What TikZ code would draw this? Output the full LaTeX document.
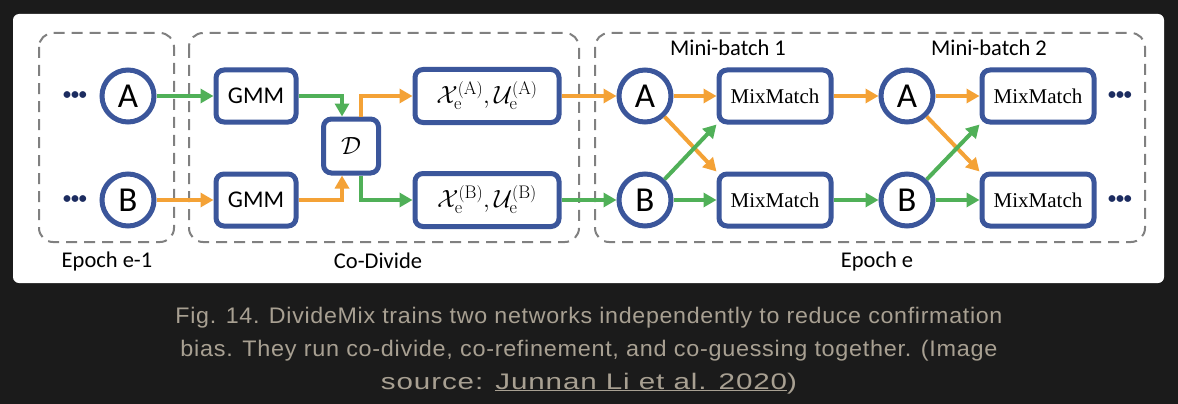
\documentclass[tikz,border=0pt]{standalone}
\usepackage{fontspec}
\usepackage{graphicx}
\usetikzlibrary{arrows.meta}
\newfontfamily\calibri{Carlito}
\newfontfamily\cambria{Liberation Serif}
\newfontfamily\capfont[LetterSpace=3]{Liberation Sans}
\definecolor{netblue}{RGB}{59,86,155}
\definecolor{dotblue}{RGB}{28,44,96}
\definecolor{grpgray}{RGB}{128,128,128}
\definecolor{arrgreen}{RGB}{80,176,88}
\definecolor{arrorange}{RGB}{244,162,54}
\definecolor{pagedark}{RGB}{27,27,27}
\definecolor{captgray}{RGB}{168,160,146}

\begin{document}
\begin{tikzpicture}[x=1pt,y=-1pt,
    net/.style={circle,draw=netblue,line width=5pt,minimum size=52pt,inner sep=0pt,
      font=\calibri\fontsize{35}{35}\selectfont},
    blk/.style={draw=netblue,line width=5pt,rounded corners=8pt,minimum height=52pt,inner sep=0pt},
    gmm/.style={blk,minimum width=80pt,font=\calibri\fontsize{24}{24}\selectfont},
    mix/.style={blk,minimum width=112pt,font=\cambria\fontsize{21}{21}\selectfont},
    part/.style={blk,minimum width=144pt,minimum height=53pt,font=\fontsize{26}{26}\selectfont},
    grp/.style={draw=grpgray,line width=2pt,dash pattern=on 11pt off 7pt,rounded corners=14pt},
    dots/.style={text=dotblue,font=\calibri\bfseries\fontsize{16}{16}\selectfont},
    lab/.style={font=\calibri\fontsize{22.5}{22.5}\selectfont},
    capt/.style={text=captgray,anchor=base,inner sep=0pt,font=\capfont\fontsize{22.5}{22.5}\selectfont},
    garr/.style={draw=arrgreen,line width=4pt,-{Triangle[length=13pt,width=14pt]}},
    oarr/.style={draw=arrorange,line width=4pt,-{Triangle[length=13pt,width=14pt]}}]
  \useasboundingbox (0,0) rectangle (1178,404);
  \fill[pagedark] (0,0) rectangle (1178,404);
  \fill[white,rounded corners=6pt] (13,14) rectangle (1164,283);

  % dashed groups
  \draw[grp] (39,33) rectangle (174,242);
  \draw[grp] (189,33) rectangle (579,242);
  \draw[grp] (595,33) rectangle (1145,242);
  \node[lab] (ep1) at (107,261) {Epoch e-1};
  \node[lab] (codiv) at (378,261) {Co-Divide};
  \node[lab] (ep) at (877,261) {Epoch e};
  \node[lab] (mb1) at (728,48) {Mini-batch 1};
  \node[lab] (mb2) at (989,48) {Mini-batch 2};

  % epoch e-1 and co-divide
  \node[dots] (dA) at (75,96) {\textbullet\textbullet\textbullet};
  \node[dots] (dB) at (75,200) {\textbullet\textbullet\textbullet};
  \node[net] (A1) at (128,96) {A};
  \node[net] (B1) at (128,200) {B};
  \node[gmm] (gA) at (256,96) {GMM};
  \node[gmm] (gB) at (256,200) {GMM};
  \node[blk,minimum width=55pt,minimum height=54pt,font=\fontsize{26}{26}\selectfont] (D) at (351,146) {$\mathcal{D}$};
  \node[part] (xA) at (487,96) {$\mathcal{X}_{\mathrm{e}}^{(\mathrm{A})},\mathcal{U}_{\mathrm{e}}^{(\mathrm{A})}$};
  \node[part] (xB) at (487,200) {$\mathcal{X}_{\mathrm{e}}^{(\mathrm{B})},\mathcal{U}_{\mathrm{e}}^{(\mathrm{B})}$};

  % epoch e
  \node[net] (A2) at (645,96) {A};
  \node[net] (B2) at (645,200) {B};
  \node[mix] (mA1) at (775,96) {MixMatch};
  \node[mix] (mB1) at (775,200) {MixMatch};
  \node[net] (A3) at (907,96) {A};
  \node[net] (B3) at (907,200) {B};
  \node[mix] (mA2) at (1038,96) {MixMatch};
  \node[mix] (mB2) at (1038,200) {MixMatch};
  \node[dots] (eA) at (1120,96) {\textbullet\textbullet\textbullet};
  \node[dots] (eB) at (1120,200) {\textbullet\textbullet\textbullet};

  \draw[garr] (A1) -- (gA);
  \draw[oarr] (B1) -- (gB);
  \draw[garr] (gA.east) -| ([xshift=-9pt]D.north);
  \draw[oarr] (gB.east) -| ([xshift=-9pt]D.south);
  \draw[oarr] ([xshift=10pt]D.north) |- (xA.west);
  \draw[garr] ([xshift=10pt]D.south) |- (xB.west);
  \draw[oarr] (xA) -- (A2);
  \draw[garr] (xB) -- (B2);
  \draw[oarr] (A2) -- (mA1);
  \draw[oarr] (A2) -- (mB1.north west);
  \draw[garr] (B2) -- (mA1.south west);
  \draw[garr] (B2) -- (mB1);
  \draw[oarr] (mA1) -- (A3);
  \draw[garr] (mB1) -- (B3);
  \draw[oarr] (A3) -- (mA2);
  \draw[oarr] (A3) -- (mB2.north west);
  \draw[garr] (B3) -- (mA2.south west);
  \draw[garr] (B3) -- (mB2);

  % caption
  \node[capt] (cap1) at (589,323) {\resizebox{827pt}{\height}{Fig. 14. DivideMix trains two networks independently to reduce confirmation}};
  \node[capt] (cap2) at (589,356) {\resizebox{817pt}{\height}{bias. They run co-divide, co-refinement, and co-guessing together. (Image}};
  \node[capt] (cap3) at (589,389) {\resizebox{416pt}{\height}{source: \underline{Junnan Li et al. 2020})}};
\end{tikzpicture}
\end{document}
